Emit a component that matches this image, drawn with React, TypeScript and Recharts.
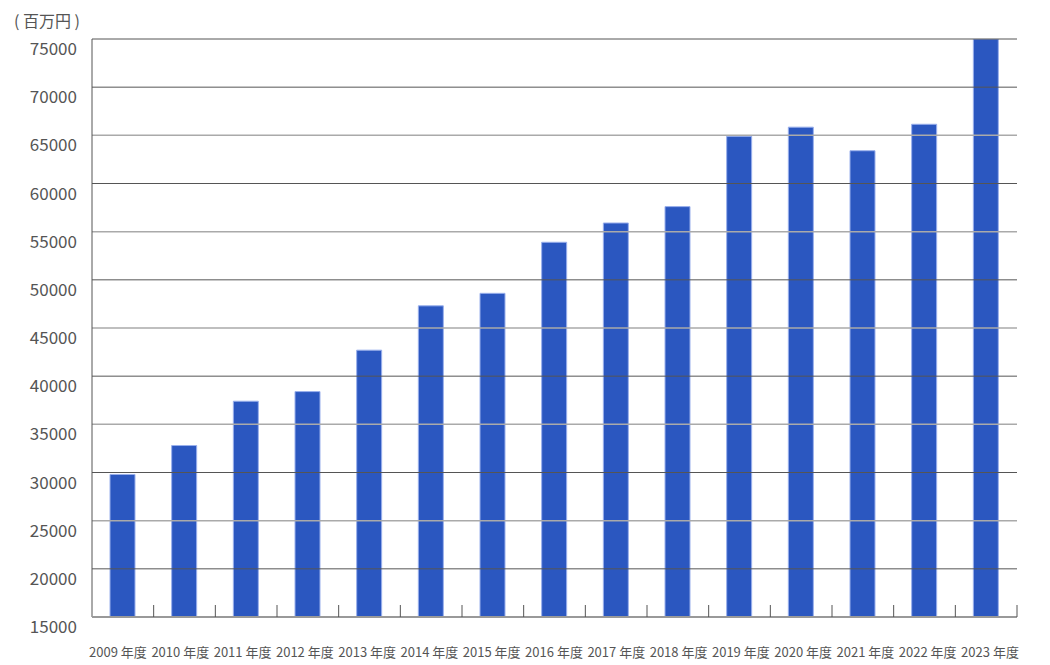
import React from 'react';
import { BarChart, Bar, XAxis, YAxis, ReferenceLine } from 'recharts';

const categories = ['2009 年度','2010 年度','2011 年度','2012 年度','2013 年度','2014 年度','2015 年度','2016 年度','2017 年度','2018 年度','2019 年度','2020 年度','2021 年度','2022 年度','2023 年度'];
const values = [29800, 32800, 37400, 38400, 42700, 47300, 48600, 53900, 55900, 57600, 64900, 65850, 63400, 66150, 75000];
const yTicks = [15000, 20000, 25000, 30000, 35000, 40000, 45000, 50000, 55000, 60000, 65000, 70000, 75000];
const unitLabel = '( 百万円 )';

const data = categories.map((c, i) => ({ name: c, value: values[i] }));

const W = 1050;
const H = 665;
const LEFT = 92;
const RIGHT = 33;
const TOP = 39;
const XH = 48;
const FONT = '"Noto Sans CJK JP", "Noto Sans", sans-serif';
const BAND = (W - LEFT - RIGHT) / categories.length;

const XTick = (props: any) => {
  const { x, y, payload, index } = props;
  const bx = x + BAND / 2;
  const i = typeof index === 'number' ? index : (payload.index ?? 0);
  const shift = -0.5 + (i - 7) * 0.62;
  return (
    <g>
      <line x1={bx} x2={bx} y1={y} y2={y - 12} stroke="#555" strokeWidth={1} />
      <text x={x + shift} y={y + 40} textAnchor="middle" fill="#555" fontSize={13} fontFamily={FONT}>
        {payload.value}
      </text>
    </g>
  );
};

const YTick = (props: any) => {
  const { x, y, payload } = props;
  return (
    <text x={x} y={y + 16} textAnchor="end" fill="#555" fontSize={17} fontFamily={FONT}>
      {payload.value}
    </text>
  );
};

export default function App() {
  return (
    <div style={{ position: 'absolute', left: 0, top: 0, width: W, height: H, background: '#fff' }}>
      <div style={{ position: 'absolute', left: 14, top: 9, fontSize: 16, color: '#555', fontFamily: FONT, lineHeight: '22px' }}>
        {unitLabel}
      </div>
      <BarChart width={W} height={H} data={data} margin={{ top: TOP, right: RIGHT, bottom: 0, left: 0 }} barCategoryGap={0}>
        {yTicks.map((t) => (
          <ReferenceLine key={t} y={t} stroke={t % 10000 === 0 || t === 75000 ? '#555' : '#aaa'} strokeWidth={t % 10000 === 0 || t === 75000 ? 1 : 1.5} ifOverflow="extendDomain" />
        ))}
        <YAxis
          width={LEFT}
          domain={[15000, 75000]}
          ticks={yTicks}
          allowDataOverflow
          interval={0}
          axisLine={{ stroke: '#555', strokeWidth: 1 }}
          tickLine={false}
          tickSize={0}
          tickMargin={15}
          tick={<YTick />}
        />
        <XAxis
          dataKey="name"
          height={XH}
          interval={0}
          axisLine={{ stroke: '#999', strokeWidth: 2 }}
          tickLine={false}
          tickSize={0}
          tickMargin={0}
          tick={<XTick />}
        />
        <Bar dataKey="value" fill="#2b57c0" stroke="#9ab0ec" strokeWidth={1} barSize={25} isAnimationActive={false} />
      </BarChart>
    </div>
  );
}
